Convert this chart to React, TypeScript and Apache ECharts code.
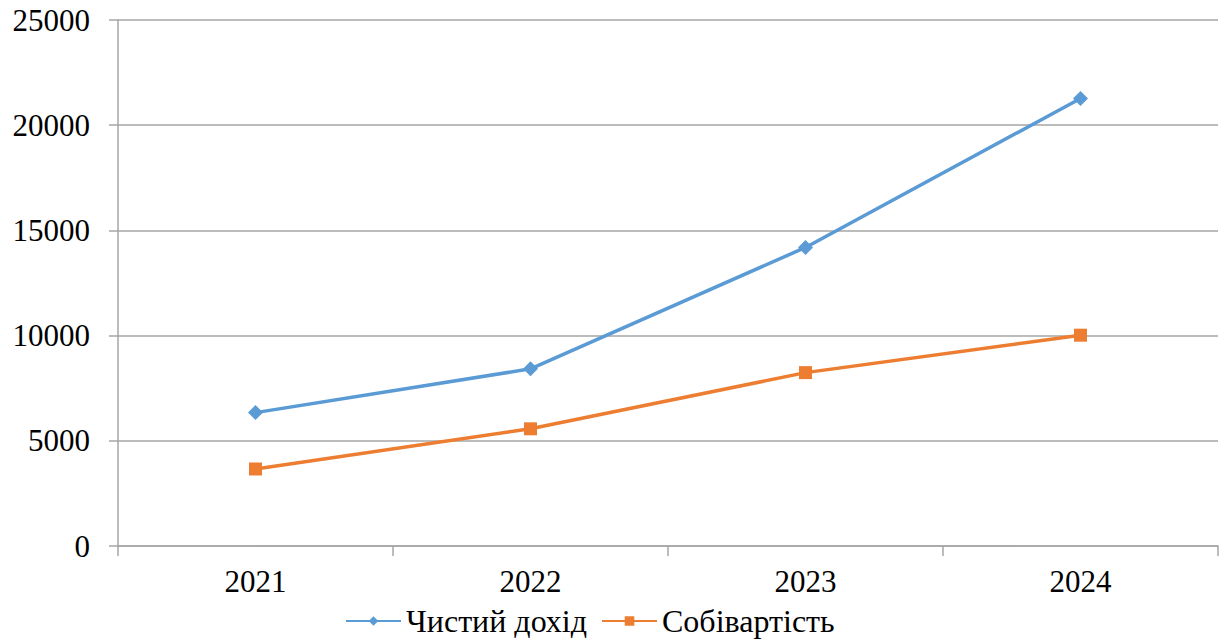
import React, { useEffect, useRef } from "react";
import * as echarts from "echarts";

const categories = ["2021", "2022", "2023", "2024"];
const netIncome = [6340, 8420, 14190, 21270];
const costPrice = [3660, 5570, 8240, 10020];
const seriesNames = ["Чистий дохід", "Собівартість"];

const FONT = "Liberation Serif, serif";

export default function App() {
  const ref = useRef<HTMLDivElement>(null);
  useEffect(() => {
    const chart = echarts.init(ref.current!, null, { renderer: "svg" });
    chart.setOption({
      animation: false,
      backgroundColor: "#ffffff",
      textStyle: { fontFamily: FONT },
      grid: { left: 118, right: 12, top: 20, bottom: 96, containLabel: false },
      legend: {
        bottom: 0,
        left: 340,
        itemWidth: 55,
        itemHeight: 12,
        itemGap: 14,
        textStyle: { fontFamily: FONT, fontSize: 32, color: "#000" },
        data: seriesNames,
      },
      xAxis: {
        type: "category",
        data: categories,
        boundaryGap: true,
        axisLine: { lineStyle: { color: "#A6A6A6", width: 1.5 } },
        axisTick: { show: true, length: 10, lineStyle: { color: "#A6A6A6", width: 1.5 } },
        axisLabel: { fontFamily: FONT, fontSize: 31, color: "#000", margin: 20 },
      },
      yAxis: {
        type: "value",
        min: 0,
        max: 25000,
        interval: 5000,
        axisLine: { show: true, lineStyle: { color: "#A6A6A6", width: 1.5 } },
        axisTick: { show: true, length: 9, lineStyle: { color: "#A6A6A6", width: 1.5 } },
        splitLine: { lineStyle: { color: "#A6A6A6", width: 1.5 } },
        axisLabel: {
          fontFamily: FONT,
          fontSize: 31,
          color: "#000",
          margin: 28,
          formatter: (v: number) => String(v),
        },
      },
      series: [
        {
          name: seriesNames[0],
          type: "line",
          data: netIncome,
          symbol: "diamond",
          symbolSize: 15,
          itemStyle: { color: "#5B9BD5" },
          lineStyle: { color: "#5B9BD5", width: 3.5 },
        },
        {
          name: seriesNames[1],
          type: "line",
          data: costPrice,
          symbol: "rect",
          symbolSize: 13,
          itemStyle: { color: "#ED7D31" },
          lineStyle: { color: "#ED7D31", width: 3.5 },
        },
      ],
    });
    return () => chart.dispose();
  }, []);
  return (
    <div
      ref={ref}
      style={{ position: "fixed", left: 0, top: 0, width: 1230, height: 642, background: "#fff" }}
    />
  );
}
